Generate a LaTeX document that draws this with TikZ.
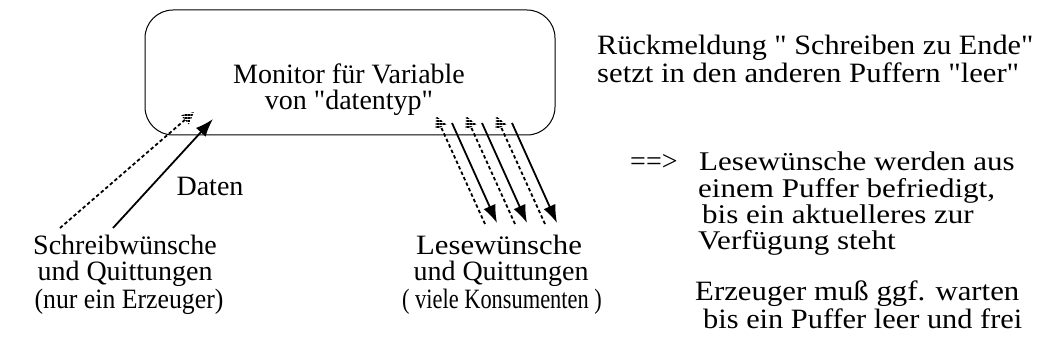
\documentclass[tikz,border=0pt]{standalone}
\usepackage{fontspec}
\setmainfont{Liberation Serif}[Ligatures=TeXOff]
\usetikzlibrary{arrows.meta,calc,patterns.meta}
\newcommand{\qq}{\symbol{34}}
\newcommand{\hs}[2]{\scalebox{#1}[1]{#2}}
\begin{document}
\begin{tikzpicture}[x=1pt,y=-1pt,
  txt/.style={font=\fontsize{28}{30}\selectfont,inner sep=0pt,anchor=base,text height=18pt,text depth=5pt},
  txtl/.style={txt,anchor=base west},
  txts/.style={txtl,font=\fontsize{27}{30}\selectfont},
  solidarr/.style={line width=1.8pt,-{Latex[length=18pt,width=13pt]}},
  dasharr/.style={line width=1.8pt,dash pattern=on 3.5pt off 2.5pt},
  stripes/.style={pattern={Lines[angle=0,distance=3pt,line width=1.4pt]}}]
\useasboundingbox (0,0) rectangle (1051,358);
\node[draw,line width=1pt,rounded corners=28pt,minimum width=410pt,minimum height=125pt,inner sep=0pt] (mon) at (350,72.5) {};
\node[txt] (m1) at (349,84) {Monitor für Variable};
\node[txt] (m2) at (349,110) {von \qq datentyp\qq};
\node[txtl] (r1) at (597,55) {\hs{1.08}{Rückmeldung \qq{} Schreiben zu Ende\qq}};
\node[txtl] (r2) at (597,83) {\hs{1.095}{setzt in den anderen Puffern \qq leer\qq}};
\node[txtl] (arr) at (630,171) {==>};
\node[txts] (l1) at (699,171) {\hs{1.15}{Lesewünsche werden aus}};
\node[txts] (l2) at (698,197) {\hs{1.15}{einem Puffer befriedigt,}};
\node[txts] (l3) at (702,223) {\hs{1.15}{bis ein aktuelleres zur}};
\node[txts] (l4) at (698,249) {\hs{1.15}{Verfügung steht}};
\node[txtl] (e1) at (695,300) {\hs{1.1}{Erzeuger muß ggf. warten}};
\node[txtl] (e2) at (703,328) {\hs{1.085}{bis ein Puffer leer und frei}};
\node[txt] (d) at (210,195) {Daten};
\node[txt] (s1) at (125,254) {Schreibwünsche};
\node[txt] (s2) at (125,280) {und Quittungen};
\node[txt] (s3) at (129,308) {\hs{0.92}{(nur ein Erzeuger)}};
\node[txt] (q1) at (499,254) {\hs{1.1}{Lesewünsche}};
\node[txt] (q2) at (501,280) {und Quittungen};
\node[txt] (q3) at (502,308) {\hs{0.8}{( viele Konsumenten )}};
% left arrows
\coordinate (ds) at (60,228); \coordinate (dt) at (194,112);
\coordinate (ss) at (113,228); \coordinate (st) at (213,119);
\draw[solidarr] (ss) -- (st);
\draw[dasharr] (ds) -- ($(dt)!12pt!(ds)$);
\fill[stripes] (dt) -- ($($(dt)!12pt!(ds)$)!6pt!90:(ds)$) -- ($($(dt)!12pt!(ds)$)!6pt!-90:(ds)$) -- cycle;
% right arrows
\foreach \i/\dx in {1/0,2/30,3/60}{
  \coordinate (rds\i) at (485+\dx,224); \coordinate (rdt\i) at (436+\dx,116);
  \coordinate (rss\i) at (452+\dx,123); \coordinate (rst\i) at (497+\dx,223);
  \draw[solidarr] (rss\i) -- (rst\i);
  \draw[dasharr] (rds\i) -- ($(rdt\i)!12pt!(rds\i)$);
  \fill[stripes] (rdt\i) -- ($($(rdt\i)!12pt!(rds\i)$)!6pt!90:(rds\i)$) -- ($($(rdt\i)!12pt!(rds\i)$)!6pt!-90:(rds\i)$) -- cycle;
}
\end{tikzpicture}
\end{document}
